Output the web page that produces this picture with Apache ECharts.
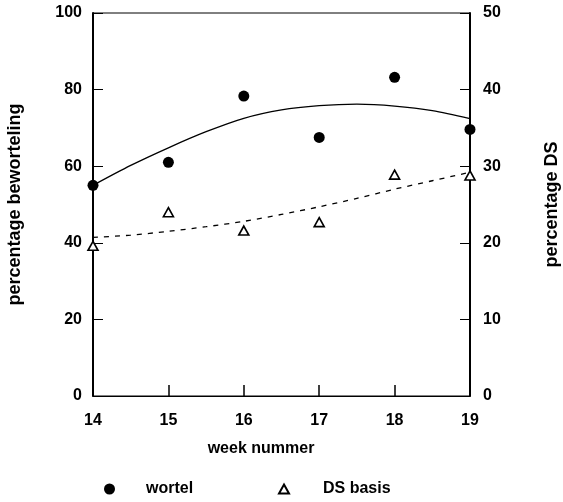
<!DOCTYPE html>
<html>
<head>
<meta charset="utf-8">
<script src="https://cdn.jsdelivr.net/npm/echarts@6/dist/echarts.min.js"></script>
<style>
  html, body { margin: 0; padding: 0; background: #fff; }
  #chart { width: 563px; height: 502px; }
</style>
</head>
<body>
<div id="chart"></div>
<script>
// week numbers
var weeks = [14, 15, 16, 17, 18, 19];
// percentage beworteling (left axis)
var wortel = [55, 61, 78.3, 67.5, 83.2, 69.6];
// percentage DS (right axis)
var dsBasis = [19.6, 24, 21.6, 22.7, 28.9, 28.8];
// fitted trend lines, every half week
var trendWeeks = [14, 14.5, 15, 15.5, 16, 16.5, 17, 17.5, 18, 18.5, 19];
var wortelTrend = [55, 60.2, 64.8, 69, 72.5, 74.7, 75.8, 76.2, 75.7, 74.5, 72.4];
var dsTrend = [20.7, 21.0, 21.5, 22.1, 22.8, 23.7, 24.7, 25.8, 27.0, 28.1, 29.2];

var font = '"Liberation Sans", Arial, sans-serif';

function pairs(xs, ys) {
  return xs.map(function (x, i) { return [x, ys[i]]; });
}

var chart = echarts.init(document.getElementById('chart'), null, { renderer: 'canvas' });

var option = {
  backgroundColor: '#fff',
  animation: false,
  textStyle: { fontFamily: font, color: '#000', fontWeight: 'bold' },
  grid: {
    left: 93, right: 93, top: 13, bottom: 106,
    containLabel: false, outerBoundsMode: 'none',
    show: true, borderColor: '#000', borderWidth: 1, backgroundColor: 'transparent'
  },
  legend: [
    {
      data: ['wortel'],
      left: 99, top: 476,
      itemWidth: 11, itemHeight: 11,
      textStyle: { fontFamily: font, fontSize: 16, fontWeight: 'bold', color: '#000', padding: [0, 0, 0, 26] }
    },
    {
      data: ['DS basis'],
      left: 273, top: 476,
      itemWidth: 10, itemHeight: 9,
      textStyle: { fontFamily: font, fontSize: 16, fontWeight: 'bold', color: '#000', padding: [0, 0, 0, 29] }
    }
  ],
  xAxis: {
    type: 'value', min: 14, max: 19, interval: 1,
    name: 'week nummer', nameLocation: 'middle', nameGap: 45,
    nameTextStyle: { fontFamily: font, fontSize: 16, fontWeight: 'bold', color: '#000', padding: [0, 41, 0, 0] },
    axisLine: { show: true, lineStyle: { color: '#000', width: 1 } },
    axisTick: { show: true, inside: true, length: 11, lineStyle: { color: '#000', width: 1.5 } },
    axisLabel: { fontFamily: font, fontSize: 16, fontWeight: 'bold', color: '#000', margin: 17 },
    splitLine: { show: false }
  },
  yAxis: [
    {
      type: 'value', min: 0, max: 100, interval: 20,
      name: 'percentage beworteling', nameLocation: 'middle', nameGap: 69, nameRotate: 90,
      nameTextStyle: { fontFamily: font, fontSize: 18, fontWeight: 'bold', color: '#000' },
      axisLine: { show: true, lineStyle: { color: '#000', width: 2 } },
      axisTick: { show: true, inside: true, length: 10, lineStyle: { color: '#000', width: 1 } },
      axisLabel: { fontFamily: font, fontSize: 16, fontWeight: 'bold', color: '#000', margin: 11 },
      splitLine: { show: false }
    },
    {
      type: 'value', min: 0, max: 50, interval: 10, position: 'right',
      name: 'percentage DS', nameLocation: 'middle', nameGap: 73, nameRotate: 90,
      nameTextStyle: { fontFamily: font, fontSize: 18, fontWeight: 'bold', color: '#000' },
      axisLine: { show: true, lineStyle: { color: '#000', width: 2 } },
      axisTick: { show: true, inside: true, length: 10, lineStyle: { color: '#000', width: 1 } },
      axisLabel: { fontFamily: font, fontSize: 16, fontWeight: 'bold', color: '#000', margin: 13 },
      splitLine: { show: false }
    }
  ],
  series: [
    {
      name: 'wortel trend', type: 'line', yAxisIndex: 0,
      data: pairs(trendWeeks, wortelTrend), smooth: 0.3, showSymbol: false, silent: true,
      lineStyle: { color: '#000', width: 1.3 }, z: 2
    },
    {
      name: 'DS trend', type: 'line', yAxisIndex: 1,
      data: pairs(trendWeeks, dsTrend), smooth: 0.3, showSymbol: false, silent: true,
      lineStyle: { color: '#000', width: 1.3, type: [5, 6] }, z: 2
    },
    {
      name: 'wortel', type: 'scatter', yAxisIndex: 0,
      data: pairs(weeks, wortel),
      symbol: 'circle', symbolSize: 11,
      itemStyle: { color: '#000', opacity: 1 }, z: 3
    },
    {
      name: 'DS basis', type: 'scatter', yAxisIndex: 1,
      data: pairs(weeks, dsBasis),
      symbol: 'triangle', symbolSize: [10, 9],
      itemStyle: { color: '#fff', borderColor: '#000', borderWidth: 1.6, opacity: 1 }, z: 3
    }
  ]
};

chart.setOption(option);
</script>
</body>
</html>
